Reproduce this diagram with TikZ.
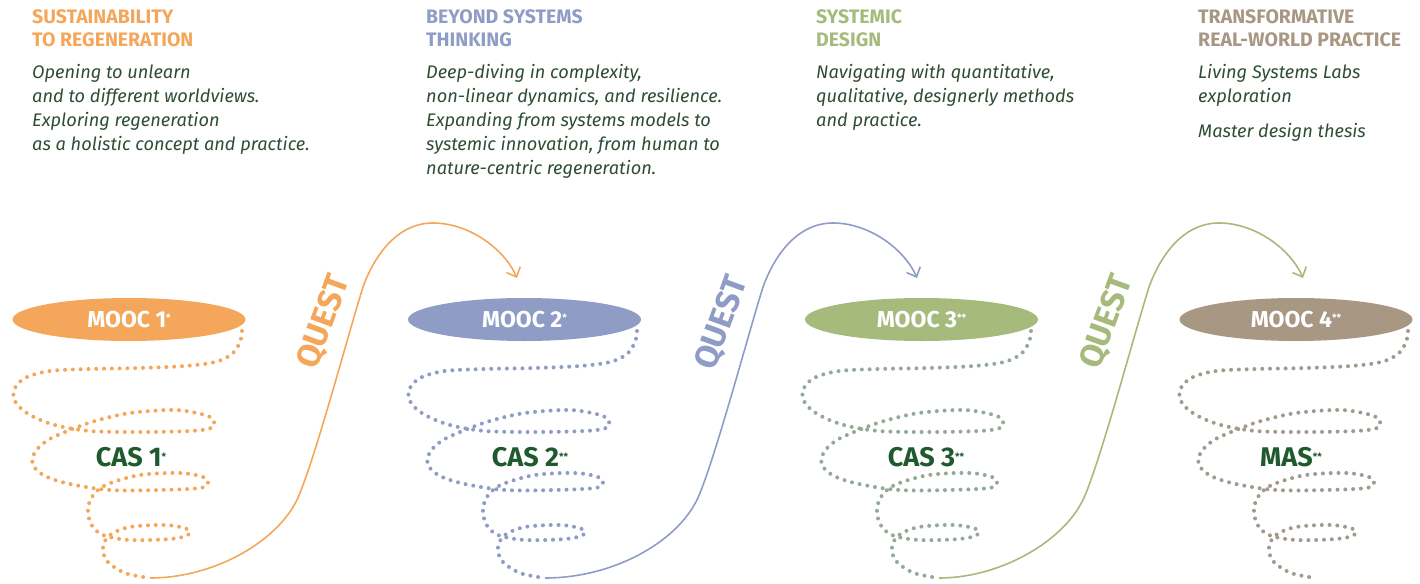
\documentclass[tikz,border=0pt]{standalone}
\usepackage{fontspec}
\setmainfont{Fira Sans}
\usetikzlibrary{shapes.geometric,arrows.meta}
\definecolor{corange}{HTML}{F4A75B}
\definecolor{cblue}{HTML}{8F9DC6}
\definecolor{cgreen}{HTML}{A6BA7C}
\definecolor{ctaupe}{HTML}{A89782}
\definecolor{cgreendot}{HTML}{95A997}
\definecolor{ctaupedot}{HTML}{A29A8D}
\definecolor{ctext}{HTML}{2E4D34}
\definecolor{ccas}{HTML}{1F5A2E}
\newcommand\supone{{\fontsize{10}{10}\selectfont\raisebox{0.6em}{*}}}
\newcommand\suptwo{{\fontsize{10}{10}\selectfont\raisebox{0.6em}{**}}}
\tikzset{
  head/.style={anchor=north west,inner sep=0pt,align=left,font=\fontsize{19.5}{23}\selectfont\bfseries},
  body/.style={anchor=north west,inner sep=0pt,align=left,text=ctext,font=\fontsize{18.2}{24}\selectfont\itshape},
  mooc/.style={ellipse,minimum width=233pt,minimum height=43pt,inner sep=0pt,text=white,font=\fontsize{23}{23}\selectfont\bfseries},
  cas/.style={inner sep=0pt,text=ccas,font=\fontsize{27}{27}\selectfont\bfseries},
  spiraldots/.style={line width=4pt,line cap=round,dash pattern=on 0pt off 7.8pt},
  questline/.style={line width=1.6pt,-{Straight Barb[length=8pt,width=15pt,line width=1.6pt]}},
  questlabel/.style={inner sep=0pt,rotate=70,font=\fontsize{33}{33}\selectfont\bfseries},
}
\newcommand\drawspiral[3]{%
\begin{scope}[shift={(#1,0)}]
\draw[spiraldots,#2] plot[smooth,tension=0.55] coordinates{
(242,331) (240,342) (232,354) (215,362) (185,366) (140,368) (90,369) (50,371) (25,378) (14,390) (16,403) (30,415) (55,425) (90,431) (140,432) (190,431) (211,428) (214,421) (205,415) (175,410) (130,413) (95,421) (70,430) (48,440) (35,452) (33,465) (45,476) (70,484) (110,490) (160,490) (200,488) (208,483) (203,477) (180,473) (140,475) (108,484) (94,494) (88,508) (91,524) (103,535) (130,540) (170,539) (188,535) (187,529) (165,525) (130,527) (110,535) (103,547) (107,561) (125,573) (150,578)};
\coordinate (#3) at (150,578);
\end{scope}}
\newcommand\drawquest[4]{%
\begin{scope}[shift={(#1,0)}]
\coordinate (#4) at (517,278);
\draw[questline,#2] (#3) .. controls (215,578) and (282,540) .. (300,493)
  .. controls (318,448) and (348,335) .. (363,287)
  .. controls (375,254) and (398,223) .. (433,223)
  .. controls (470,223) and (505,250) .. (#4);
\end{scope}}
\begin{document}
\begin{tikzpicture}[x=1pt,y=-1pt]
\useasboundingbox (0,0) rectangle (1420,583);
% headings
\node[head,text=corange] (h1) at (32,9) {SUSTAINABILITY\\TO REGENERATION};
\node[body] (b1) at (32,64) {Opening to unlearn\\and to different worldviews.\\Exploring regeneration\\as a holistic concept and practice.};
\node[head,text=cblue] (h2) at (426,9) {BEYOND SYSTEMS\\THINKING};
\node[body] (b2) at (426,64) {Deep-diving in complexity,\\non-linear dynamics, and resilience.\\Expanding from systems models to\\systemic innovation, from human to\\nature-centric regeneration.};
\node[head,text=cgreen] (h3) at (816,9) {SYSTEMIC\\DESIGN};
\node[body] (b3) at (816,64) {Navigating with quantitative,\\qualitative, designerly methods\\and practice.};
\node[head,text=ctaupe] (h4) at (1198,9) {TRANSFORMATIVE\\REAL-WORLD PRACTICE};
\node[body] (b4) at (1198,64) {Living Systems Labs\\exploration\\[11pt]Master design thesis};
% spirals
\drawspiral{0}{corange}{e1}
\drawspiral{395}{cblue}{e2}
\drawspiral{789}{cgreendot}{e3}
\drawspiral{1166}{ctaupedot}{e4}
% ellipses
\node[mooc,fill=corange] (m1) at (129,319.5) {MOOC 1\supone};
\node[mooc,fill=cblue] (m2) at (524.5,319.5) {MOOC 2\supone};
\node[mooc,fill=cgreen] (m3) at (921.5,319.5) {MOOC 3\suptwo};
\node[mooc,fill=ctaupe] (m4) at (1296,319.5) {MOOC 4\suptwo};
% cas
\node[cas] (c1) at (131,457) {CAS 1\supone};
\node[cas] (c2) at (530,457) {CAS 2\suptwo};
\node[cas] (c3) at (926,457) {CAS 3\suptwo};
\node[cas] (c4) at (1291,457) {MAS\suptwo};
% quests
\drawquest{0}{corange}{e1}{t1}
\drawquest{400}{cblue}{e2}{t2}
\drawquest{786}{cgreen}{e3}{t3}
\node[questlabel,text=corange] (q1) at (324,322) {QUEST};
\node[questlabel,text=cblue] (q2) at (722,323) {QUEST};
\node[questlabel,text=cgreen] (q3) at (1107,322) {QUEST};
\end{tikzpicture}
\end{document}
